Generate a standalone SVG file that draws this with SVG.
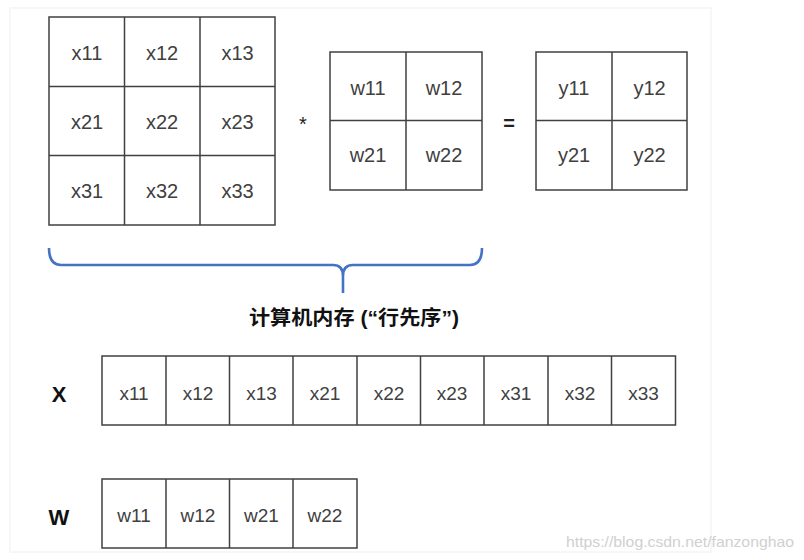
<svg xmlns="http://www.w3.org/2000/svg" width="804" height="560" viewBox="0 0 804 560">
<style>
.cell{fill:#fff;stroke:#404040;stroke-width:1.5}
.grid{stroke:#404040;stroke-width:1.5;fill:none}
.t{font-family:"Liberation Sans",Arial,sans-serif;font-size:20px;fill:#404040;text-anchor:middle}
.r{font-family:"Liberation Sans",Arial,sans-serif;font-size:19px;fill:#404040;text-anchor:middle}
.lbl{font-family:"Liberation Sans",Arial,sans-serif;font-size:22px;font-weight:bold;fill:#111;text-anchor:middle}
.op{font-family:"Liberation Sans",Arial,sans-serif;font-size:20px;fill:#222;text-anchor:middle}
</style>
<rect x="0" y="0" width="804" height="560" fill="#fff"/>
<rect x="10" y="8" width="701" height="544" fill="#fff" stroke="#efefef" stroke-width="1"/>

<g id="matrixX">
<rect class="cell" x="49" y="17" width="226" height="208"/>
<path class="grid" d="M124.5,17V225M200,17V225M49,86.5H275M49,155.5H275"/>
<text class="t" x="87" y="60">x11</text><text class="t" x="162" y="60">x12</text><text class="t" x="237.5" y="60">x13</text>
<text class="t" x="87" y="129">x21</text><text class="t" x="162" y="129">x22</text><text class="t" x="237.5" y="129">x23</text>
<text class="t" x="87" y="198">x31</text><text class="t" x="162" y="198">x32</text><text class="t" x="237.5" y="198">x33</text>
</g>

<g id="star"><text class="op" x="303" y="131">*</text></g>

<g id="matrixW">
<rect class="cell" x="330" y="52" width="152" height="138"/>
<path class="grid" d="M406,52V190M330,120.5H482"/>
<text class="t" x="368" y="95">w11</text><text class="t" x="444" y="95">w12</text>
<text class="t" x="368" y="162">w21</text><text class="t" x="444" y="162">w22</text>
</g>

<g id="equals"><text class="op" x="509" y="130" font-weight="bold">=</text></g>

<g id="matrixY">
<rect class="cell" x="536" y="52" width="151" height="138"/>
<path class="grid" d="M612,52V190M536,120.5H687"/>
<text class="t" x="574" y="95">y11</text><text class="t" x="649.5" y="95">y12</text>
<text class="t" x="574" y="162">y21</text><text class="t" x="649.5" y="162">y22</text>
</g>

<g id="connectors">
<path d="M49,248Q49,265 61,265H333Q343,265 343,276V293M343,276Q343,265 353,265H470Q482,265 482,248" fill="none" stroke="#4472C4" stroke-width="2.6"/>
</g>

<g id="memoryLabel">
<text x="249" y="325" font-family="'Liberation Sans','Noto Sans CJK SC',sans-serif" font-size="20" font-weight="bold" fill="#111" textLength="210" lengthAdjust="spacingAndGlyphs">计算机内存 (“行先序”)</text>
</g>

<g id="rowX">
<text class="lbl" x="59" y="402">X</text>
<rect class="cell" x="102" y="356" width="573.5" height="69"/>
<path class="grid" d="M166,356V425M229.5,356V425M293,356V425M357,356V425M420.5,356V425M484,356V425M548,356V425M611.5,356V425"/>
<text class="r" x="134" y="400">x11</text><text class="r" x="198" y="400">x12</text><text class="r" x="261.5" y="400">x13</text>
<text class="r" x="325" y="400">x21</text><text class="r" x="389" y="400">x22</text><text class="r" x="452" y="400">x23</text>
<text class="r" x="516" y="400">x31</text><text class="r" x="580" y="400">x32</text><text class="r" x="643.5" y="400">x33</text>
</g>

<g id="rowW">
<text class="lbl" x="59" y="525">W</text>
<rect class="cell" x="102" y="479" width="255" height="69"/>
<path class="grid" d="M166,479V548M229.5,479V548M293,479V548"/>
<text class="r" x="134" y="522">w11</text><text class="r" x="198" y="522">w12</text><text class="r" x="261.5" y="522">w21</text><text class="r" x="325" y="522">w22</text>
</g>

<text x="566" y="547" font-family="'Liberation Sans',Arial,sans-serif" font-size="15" fill="#d0d0d0" textLength="228" lengthAdjust="spacingAndGlyphs">https://blog.csdn.net/fanzonghao</text>
</svg>
